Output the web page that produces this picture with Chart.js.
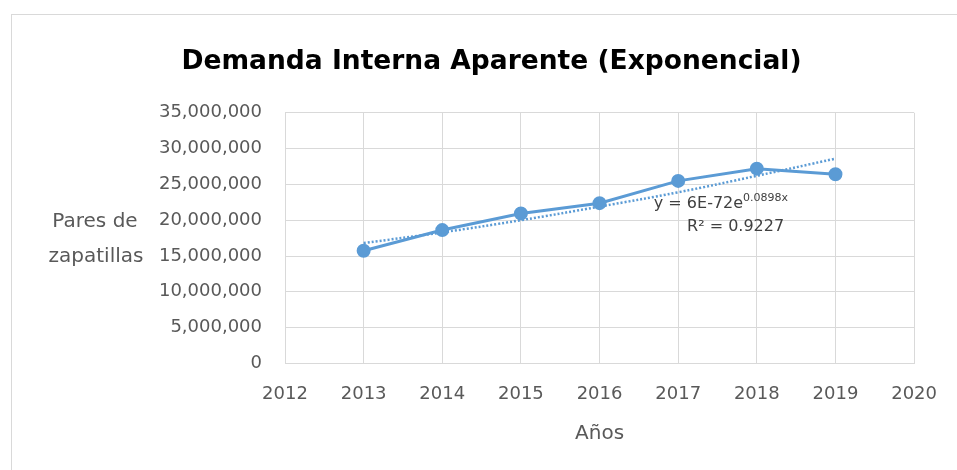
<!DOCTYPE html>
<html>
<head>
<meta charset="utf-8">
<script src="https://cdn.jsdelivr.net/npm/chart.js@4.4.1/dist/chart.umd.min.js"></script>
<style>
  body { margin: 0; background: #fff; }
  #wrap { position: relative; width: 957px; height: 470px; overflow: hidden; }
  #frame { position: absolute; left: 11px; top: 14px; width: 1000px; height: 500px; border: 1px solid #d9d9d9; }
  #chart { position: absolute; left: 0; top: 0; }
</style>
</head>
<body>
<div id="wrap">
  <div id="frame"></div>
  <canvas id="chart" width="957" height="470"></canvas>
</div>
<script>
// Demanda interna aparente, pares de zapatillas por año
const years = [2013, 2014, 2015, 2016, 2017, 2018, 2019];
const demand = [15740000, 18620000, 20930000, 22380000, 25490000, 27200000, 26420000];
// línea de tendencia exponencial
const trend = [16800000, 18300000, 20000000, 21900000, 23900000, 26200000, 28600000];
const yTicks = [0, 5000000, 10000000, 15000000, 20000000, 25000000, 30000000, 35000000];
const equation = ['y = 6E-72e', '0.0898x', 'R² = 0.9227'];

const font = 'DejaVu Sans';
const blue = '#5b9bd5';

const toPoints = vals => years.map((y, i) => ({ x: y, y: vals[i] }));

// Excel-style horizontal axis titles and trendline equation
const extras = {
    id: 'extras',
    afterDraw(chart) {
        const c = chart.ctx, a = chart.chartArea;
        const xs = chart.scales.x, ys = chart.scales.y;
        c.save();
        c.fillStyle = '#595959';
        c.font = '20px "' + font + '"';
        c.textAlign = 'center';
        c.textBaseline = 'middle';
        const mid = (a.top + a.bottom) / 2;
        c.fillText('Pares de', a.left - 190, mid - 16);
        c.fillText('zapatillas', a.left - 189, mid + 19);
        c.fillText('Años', (a.left + a.right) / 2, a.bottom + 70);

        c.fillStyle = '#404040';
        c.textAlign = 'left';
        c.font = '16px "' + font + '"';
        const ex = xs.getPixelForValue(2016.69), ey = ys.getPixelForValue(22300000);
        c.fillText(equation[0], ex, ey);
        const w = c.measureText(equation[0]).width;
        c.font = '11px "' + font + '"';
        c.fillText(equation[1], ex + w, ey - 6);
        c.font = '16px "' + font + '"';
        c.textAlign = 'center';
        c.fillText(equation[2], xs.getPixelForValue(2017.73), ys.getPixelForValue(19100000));
        c.restore();
    }
};

new Chart(document.getElementById('chart'), {
    type: 'line',
    data: {
        datasets: [
            {
                label: 'Demanda',
                data: toPoints(demand),
                borderColor: blue,
                backgroundColor: blue,
                borderWidth: 3,
                pointRadius: 5.5,
                pointHoverRadius: 5.5,
                tension: 0
            },
            {
                label: 'Exponencial',
                data: toPoints(trend),
                borderColor: blue,
                borderWidth: 2.5,
                borderDash: [2, 2],
                pointRadius: 0,
                tension: 0.4
            }
        ]
    },
    options: {
        responsive: false,
        animation: false,
        layout: { padding: { left: 63, right: 37, top: 30, bottom: 45 } },
        plugins: {
            legend: { display: false },
            tooltip: { enabled: false },
            title: {
                display: true,
                text: 'Demanda Interna Aparente (Exponencial)',
                color: '#000',
                font: { family: font, size: 26.5, weight: 'bold' },
                padding: { top: 16, bottom: 35 }
            }
        },
        scales: {
            x: {
                type: 'linear',
                min: 2012,
                max: 2020,
                grid: { color: '#d9d9d9', drawTicks: false },
                border: { color: '#d9d9d9' },
                ticks: {
                    stepSize: 1,
                    padding: 20,
                    color: '#595959',
                    font: { family: font, size: 18 },
                    callback: v => String(v)
                }
            },
            y: {
                min: 0,
                max: 35000000,
                afterBuildTicks: s => { s.ticks = yTicks.map(v => ({ value: v })); },
                afterFit: s => { s.width = 222; },
                grid: { color: '#d9d9d9', drawTicks: false },
                border: { color: '#d9d9d9' },
                ticks: {
                    padding: 23,
                    color: '#595959',
                    font: { family: font, size: 18 },
                    callback: v => v.toLocaleString('en-US')
                }
            }
        }
    },
    plugins: [extras]
});
</script>
</body>
</html>
